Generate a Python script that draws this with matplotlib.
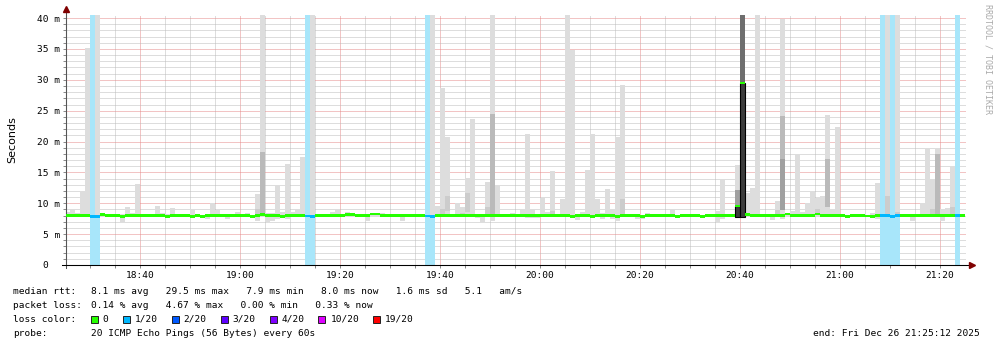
import numpy as np
import matplotlib
matplotlib.use("Agg")
import matplotlib.pyplot as plt
from matplotlib.patches import Rectangle
from matplotlib.transforms import blended_transform_factory

# one step per minute, counted in minutes after 18:00 (18:25 .. 21:24)
minutes = np.arange(25, 205)

# median rtt per step (ms)
median_ms = [
    8.0, 8.0, 8.0, 8.0, 8.0, 7.85, 7.85, 8.2, 8.0, 8.0,
    8.0, 7.85, 8.0, 8.0, 8.0, 8.0, 8.0, 8.0, 8.0, 8.0,
    7.85, 8.0, 8.0, 8.0, 8.0, 7.85, 8.0, 7.85, 8.0, 8.0,
    8.0, 8.0, 8.0, 8.0, 8.0, 8.0, 8.0, 7.85, 8.0, 8.2,
    8.0, 8.0, 8.0, 7.85, 8.0, 8.0, 8.0, 8.0, 7.9, 7.85,
    8.0, 8.0, 8.0, 8.0, 8.0, 8.0, 8.2, 8.2, 8.0, 8.0,
    8.0, 8.25, 8.25, 8.0, 8.0, 8.0, 8.0, 8.0, 8.0, 8.0,
    8.0, 8.0, 7.9, 7.85, 8.0, 8.0, 8.0, 8.0, 8.0, 8.0,
    8.0, 8.0, 8.0, 8.0, 8.0, 8.0, 8.0, 8.0, 8.0, 8.0,
    8.0, 8.0, 8.0, 8.0, 8.0, 8.0, 8.0, 8.0, 8.0, 8.0,
    8.0, 7.85, 8.0, 8.0, 8.0, 7.85, 8.0, 8.0, 8.0, 8.0,
    7.85, 8.0, 8.0, 8.0, 8.0, 7.85, 8.0, 8.0, 8.0, 8.0,
    8.0, 8.0, 7.85, 8.0, 8.0, 8.0, 8.0, 7.85, 8.0, 8.0,
    8.0, 8.0, 8.0, 8.0, 9.55, 29.5, 8.2, 8.0, 8.0, 8.0,
    8.0, 8.0, 8.0, 8.0, 8.25, 8.0, 8.0, 8.0, 8.0, 8.0,
    8.25, 8.0, 8.0, 8.0, 8.0, 8.0, 7.85, 8.0, 8.0, 8.0,
    7.9, 7.85, 8.0, 8.0, 8.0, 7.85, 8.0, 8.0, 8.0, 8.0,
    8.0, 8.0, 8.0, 8.0, 8.0, 8.0, 8.0, 8.0, 8.0, 8.0,
]

# fastest and slowest ping of each step (ms), the light smoke
smoke_lo = [
    7.8, 7.8, 7.8, 7.7, 7.9, 7.8, 7.8, 7.9, 7.9, 7.9,
    7.9, 7.0, 7.9, 7.9, 7.9, 7.9, 7.9, 7.8, 7.8, 7.8,
    7.7, 7.9, 7.8, 7.8, 7.9, 7.7, 7.8, 7.8, 7.4, 7.9,
    7.7, 7.9, 7.5, 7.9, 7.9, 7.9, 7.9, 7.8, 7.2, 7.9,
    7.0, 7.2, 7.4, 7.8, 7.5, 7.9, 7.9, 7.8, 7.8, 7.8,
    7.9, 7.9, 7.9, 7.9, 7.9, 7.9, 7.9, 7.9, 7.9, 7.9,
    7.2, 7.9, 7.9, 7.9, 7.9, 7.9, 7.9, 7.2, 7.9, 7.9,
    7.9, 7.9, 7.8, 7.8, 7.9, 7.8, 7.8, 7.9, 7.8, 7.9,
    7.9, 7.9, 7.6, 6.9, 7.9, 7.2, 7.9, 7.8, 7.9, 7.9,
    7.9, 7.9, 7.6, 7.6, 7.6, 7.9, 7.9, 7.9, 7.9, 7.9,
    7.9, 7.8, 7.3, 7.9, 7.9, 7.8, 7.9, 7.5, 7.9, 7.5,
    7.1, 7.9, 7.9, 7.9, 7.5, 7.5, 7.9, 7.9, 7.9, 7.9,
    7.9, 7.9, 7.8, 7.9, 7.9, 7.9, 7.9, 7.8, 7.9, 7.9,
    6.95, 7.5, 7.9, 7.9, 7.9, 7.8, 7.9, 7.9, 7.9, 7.9,
    7.9, 7.3, 7.9, 7.5, 7.9, 7.9, 7.9, 7.9, 7.9, 7.9,
    7.9, 7.8, 7.9, 7.9, 7.9, 7.9, 7.8, 7.9, 7.9, 7.9,
    7.8, 7.8, 7.5, 7.9, 7.9, 7.6, 7.9, 7.9, 7.9, 7.2,
    7.9, 7.9, 7.9, 7.9, 7.8, 7.2, 7.9, 7.9, 7.9, 7.9,
]
smoke_hi = [
    8.6, 9.1, 8.5, 11.9, 35.1, 8.0, 45, 8.3, 8.1, 8.1,
    8.2, 8.3, 9.4, 8.5, 13.2, 8.1, 8.3, 8.3, 9.6, 8.5,
    8.2, 9.2, 8.1, 8.1, 8.1, 9.0, 8.3, 8.1, 8.3, 10.0,
    8.9, 8.3, 8.1, 8.3, 8.6, 8.1, 8.45, 8.1, 11.5, 45,
    8.35, 8.5, 12.85, 8.6, 16.4, 8.6, 9.0, 17.55, 8.0, 45,
    8.1, 8.1, 8.1, 8.6, 9.0, 8.1, 8.6, 8.3, 8.1, 8.1,
    8.1, 8.35, 8.35, 8.5, 8.1, 8.1, 8.1, 8.1, 8.1, 8.1,
    8.1, 8.1, 8.0, 45, 9.5, 28.7, 20.8, 8.3, 10.0, 9.4,
    14.15, 23.65, 8.1, 8.1, 13.45, 45, 13.0, 8.1, 8.1, 8.45,
    8.1, 9.07, 21.3, 8.9, 8.3, 10.9, 8.6, 15.2, 8.1, 10.7,
    45, 34.9, 8.1, 8.6, 15.4, 21.2, 10.7, 8.45, 12.3, 9.0,
    20.8, 29.15, 8.3, 8.3, 8.1, 8.1, 8.5, 8.1, 8.1, 8.1,
    8.1, 9.0, 8.1, 8.1, 8.1, 8.1, 8.1, 8.1, 8.1, 8.1,
    8.8, 13.8, 8.3, 8.3, 16.2, 45, 11.7, 12.4, 45, 8.1,
    8.1, 8.1, 10.4, 39.8, 8.35, 8.8, 18.0, 8.6, 10.0, 12.0,
    10.9, 11.2, 24.3, 9.0, 22.4, 8.1, 8.1, 8.3, 8.1, 8.1,
    8.1, 8.5, 13.3, 8.1, 45, 8.1, 45, 8.1, 8.1, 8.3,
    8.1, 10.0, 19.0, 13.8, 18.8, 9.1, 9.2, 15.9, 8.1, 8.1,
]

# lost pings out of 20 per step
loss_pings = [0] * 180
for k in (5, 6, 48, 49, 72, 73, 163, 164, 165, 166, 178):
    loss_pings[k] = 1

# denser smoke layers: minute, low, high, density level
dark_minute = [63, 64, 100, 101, 104, 105, 109, 110, 122, 136, 159, 159, 160, 160,
               167, 168, 168, 175, 177, 189, 191, 198, 199, 202]
dark_lo = [8.0, 8.3, 8.0, 8.8, 8.0, 8.6, 7.9, 7.9, 8.2, 7.9, 7.9, 7.8, 29.5, 7.8,
           8.0, 8.9, 8.9, 8.3, 9.45, 8.0, 8.0, 8.3, 7.8, 8.1]
dark_hi = [9.0, 18.25, 9.0, 11.2, 8.5, 11.7, 9.4, 24.5, 8.75, 10.7, 12.15, 9.55, 45, 29.5,
           8.9, 24.1, 17.2, 9.0, 17.2, 11.2, 8.6, 9.1, 18.0, 9.45]
dark_level = [1, 2, 1, 1, 1, 1, 1, 2, 1, 1, 3, 5, 4, 5,
              1, 2, 3, 1, 2, 1, 1, 1, 2, 1]

tick_minutes = [40, 60, 80, 100, 120, 140, 160, 180, 200]
time_labels = ['18:40', '19:00', '19:20', '19:40', '20:00', '20:20', '20:40', '21:00', '21:20']
y_values = [0, 5, 10, 15, 20, 25, 30, 35, 40]
y_labels = ['', '5 m', '10 m', '15 m', '20 m', '25 m', '30 m', '35 m', '40 m']

loss_levels = [0, 1, 2, 3, 4, 10, 19]
loss_names = ['0', '1/20', '2/20', '3/20', '4/20', '10/20', '19/20']
loss_hex = ['#26ff00', '#00b8ff', '#0059ff', '#5e00ff', '#7e00ff', '#dd00ff', '#ff0000']

legend_rows = [
    ('median rtt:', '8.1 ms avg   29.5 ms max   7.9 ms min   8.0 ms now   1.6 ms sd   5.1   am/s'),
    ('packet loss:', '0.14 % avg   4.67 % max   0.00 % min   0.33 % now'),
    ('loss color:', None),
    ('probe:', '20 ICMP Echo Pings (56 Bytes) every 60s'),
]
end_text = 'end: Fri Dec 26 21:25:12 2025'

plt.rcParams['font.family'] = ['DejaVu Sans Mono']
W, H = 997, 347
fig = plt.figure(figsize=(W / 100, H / 100), dpi=100)
ax = fig.add_axes([66 / W, 82 / H, 900 / W, 250 / H])
ax.set_xlim(25.2, 205.2)
ax.set_ylim(0, 40.5)

median = np.array(median_ms)
lo = np.array(smoke_lo)
hi = np.array(smoke_hi)
lost = np.array(loss_pings)
color_of = dict(zip(loss_levels, loss_hex))

# loss background
for m, n in zip(minutes, lost):
    if n > 0:
        ax.axvspan(m, m + 1, color='#a8e6fa', lw=0, zorder=1)

# smoke
ax.bar(minutes, hi - lo, bottom=lo, width=1, align='edge', color='#dddddd', lw=0, zorder=2)
shades = {1: '#cccccc', 2: '#bababa', 3: '#a0a0a0', 4: '#6e6e6e', 5: '#3c3c3c'}
for m, a, b, lev in zip(dark_minute, dark_lo, dark_hi, dark_level):
    if lev == 5:
        ax.bar(m, b - a, bottom=a, width=1, align='edge', color=shades[lev],
               edgecolor='black', lw=0.8, zorder=3)
    else:
        ax.bar(m, b - a, bottom=a, width=1, align='edge', color=shades[lev], lw=0, zorder=3)

# median, coloured by loss
ax.bar(minutes, 0.4, bottom=median - 0.2, width=1, align='edge',
       color=[color_of[n] for n in lost], lw=0, zorder=4)

# grid
ax.set_xticks(tick_minutes)
ax.set_xticklabels(time_labels)
ax.set_xticks(np.arange(30, 205, 5), minor=True)
ax.set_yticks(y_values)
ax.set_yticklabels(y_labels)
ax.set_yticks(np.arange(0, 41, 1), minor=True)
ax.set_axisbelow(True)
ax.grid(which='minor', color='#bcbcbc', ls=(0, (1, 1)), lw=0.72)
ax.grid(which='major', color='#e68a8a', ls=(0, (1, 1)), lw=0.72)
ax.tick_params(which='both', length=2, width=0.7, color='#888888', labelsize=6.8, pad=2.3)
ax.tick_params(axis='x', pad=2.5)

for s in ('top', 'right'):
    ax.spines[s].set_visible(False)
ax.spines['left'].set_color('#555555')
ax.spines['bottom'].set_color('black')
ax.spines['left'].set_linewidth(0.75)
ax.spines['bottom'].set_linewidth(0.75)

# axis arrows
ax.plot([0, 0], [-0.012, 1.02], transform=ax.transAxes, clip_on=False, color='#555555', lw=0.75)
ax.plot([-0.004, 1.004], [0, 0], transform=ax.transAxes, clip_on=False, color='black', lw=0.75)
ax.plot([0], [1.025], marker='^', ms=4, color='#800000', transform=ax.transAxes, clip_on=False)
ax.plot([1.007], [0], marker='>', ms=4, color='#800000', transform=ax.transAxes, clip_on=False)

trans = blended_transform_factory(ax.transAxes, ax.transData)
ax.text(-17.4 / 900, 0, '0', transform=trans, ha='right', va='center', fontsize=6.8)

fig.text(12 / W, 1 - 140 / H, 'Seconds', rotation=90, ha='center', va='center',
         fontsize=8, family='DejaVu Sans')
fig.text(987.5 / W, 1 - 4 / H, 'RRDTOOL / TOBI OETIKER', rotation=270, ha='center', va='top',
         fontsize=6, color='#aaaaaa')

# legend
row_y = [291.7, 305.0, 319.3, 333.3]
for (label, body), y in zip(legend_rows, row_y):
    fig.text(13.3 / W, 1 - y / H, label, ha='left', va='center', fontsize=6.8)
    if body:
        fig.text(90.7 / W, 1 - y / H, body, ha='left', va='center', fontsize=6.8)

x = 90.7
y = row_y[2]
for name, col in zip(loss_names, loss_hex):
    fig.add_artist(Rectangle((x / W, 1 - (y + 3.5) / H), 7 / W, 7 / H, transform=fig.transFigure,
                             facecolor=col, edgecolor='#222222', lw=0.7))
    fig.text((x + 12) / W, 1 - y / H, name, ha='left', va='center', fontsize=6.8)
    x += 12 + len(name) * 5.6 + 14.5

fig.text(980 / W, 1 - row_y[3] / H, end_text, ha='right', va='center', fontsize=6.8)

fig.savefig('out.png', dpi=100, facecolor='white')
